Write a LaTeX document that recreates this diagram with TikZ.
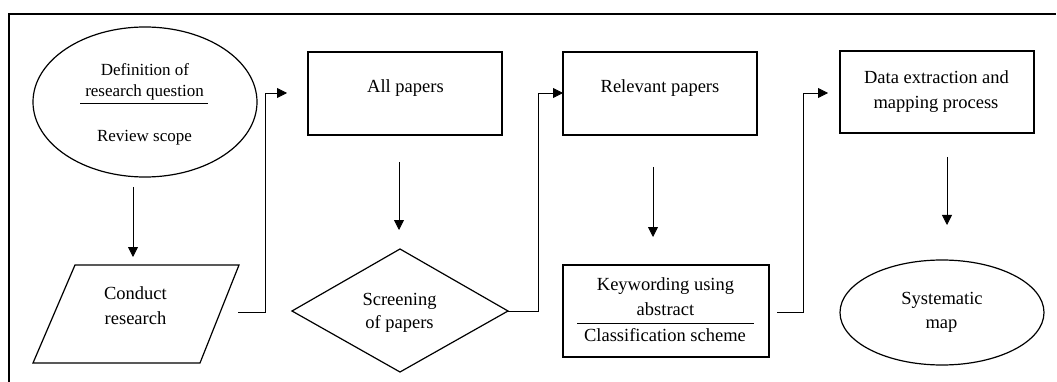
\documentclass[tikz,border=0pt]{standalone}
\usepackage{fontspec}
\setmainfont{Liberation Serif}
\usetikzlibrary{arrows.meta,shapes.geometric}
\begin{document}
\begin{tikzpicture}[x=1pt,y=-1pt,
  shp/.style={draw, line width=1.2pt},
  boxn/.style={shp, rectangle, inner sep=0pt},
  conn/.style={line width=0.8pt, -{Triangle[length=10pt,width=10pt]}},
  txt/.style={anchor=base, inner sep=0pt, font=\fontsize{18.5}{22}\selectfont},
  stxt/.style={anchor=base, inner sep=0pt, font=\fontsize{17}{20}\selectfont}
]
\useasboundingbox (0,0) rectangle (1057,382);
% frame
\draw[line width=1.8pt] (9,382) -- (9,14) -- (1056,14);

% definition ellipse
\node[shp, ellipse, minimum width=224pt, minimum height=150pt, inner sep=0pt] (def) at (145,102) {};
\node[stxt] (def1) at (145,76) {Definition of};
\node[stxt] (def2) at (144.5,97) {research question};
\draw[line width=0.8pt] (80,103) coordinate (dl1) -- (208,103) coordinate (dl2);
\node[stxt] (def3) at (144.5,142) {Review scope};

% conduct research parallelogram
\draw[shp] (75,265) -- (239,265) -- (200,363) -- (33,363) -- cycle;
\node[txt] (cond1) at (135.5,299) {Conduct};
\node[txt] (cond2) at (135.5,324) {research};

% all papers
\node[boxn, minimum width=194pt, minimum height=83pt] (ap) at (405,93.5) {};
\node[txt] (aptxt) at (405.5,93) {All papers};

% screening diamond
\draw[shp] (292,311) -- (400,249) -- (508,311) -- (400,372) -- cycle;
\node[txt] (scr1) at (399.5,305) {Screening};
\node[txt] (scr2) at (399.5,328) {of papers};

% relevant papers
\node[boxn, minimum width=194pt, minimum height=83pt] (rp) at (660,93.5) {};
\node[txt] (rptxt) at (660,93) {Relevant papers};

% keywording
\node[boxn, minimum width=206pt, minimum height=92pt] (kw) at (666,311) {};
\node[txt] (kw1) at (665.5,290) {Keywording using};
\node[txt] (kw2) at (665.5,315) {abstract};
\draw[line width=0.8pt] (577,323) coordinate (kl1) -- (754,323) coordinate (kl2);
\node[txt] (kw3) at (665,341) {Classification scheme};

% data extraction
\node[boxn, minimum width=194pt, minimum height=82pt] (dt) at (937,92) {};
\node[txt] (dt1) at (936.5,84) {Data extraction and};
\node[txt] (dt2) at (936,109) {mapping process};

% systematic map
\node[shp, ellipse, minimum width=204pt, minimum height=105pt, inner sep=0pt] (sys) at (942,312.5) {};
\node[txt] (sys1) at (942,304) {Systematic};
\node[txt] (sys2) at (941.5,328) {map};

% connector end points
\coordinate (a1s) at (133,187);  \coordinate (a1e) at (133,257);
\coordinate (a2s) at (238,312);  \coordinate (a2m) at (265,312); \coordinate (a2e) at (287,93);
\coordinate (a3s) at (399,162);  \coordinate (a3e) at (399,230);
\coordinate (a4s) at (508,311);  \coordinate (a4m) at (538,311); \coordinate (a4e) at (563,93);
\coordinate (a5s) at (653,167);  \coordinate (a5e) at (653,237);
\coordinate (a6s) at (777,312);  \coordinate (a6m) at (803,312); \coordinate (a6e) at (828,93);
\coordinate (a7s) at (947,157);  \coordinate (a7e) at (947,225);

\draw[conn] (a1s) -- (a1e);
\draw[conn] (a2s) -- (a2m) |- (a2e);
\draw[conn] (a3s) -- (a3e);
\draw[conn] (a4s) -- (a4m) |- (a4e);
\draw[conn] (a5s) -- (a5e);
\draw[conn] (a6s) -- (a6m) |- (a6e);
\draw[conn] (a7s) -- (a7e);
\end{tikzpicture}
\end{document}
